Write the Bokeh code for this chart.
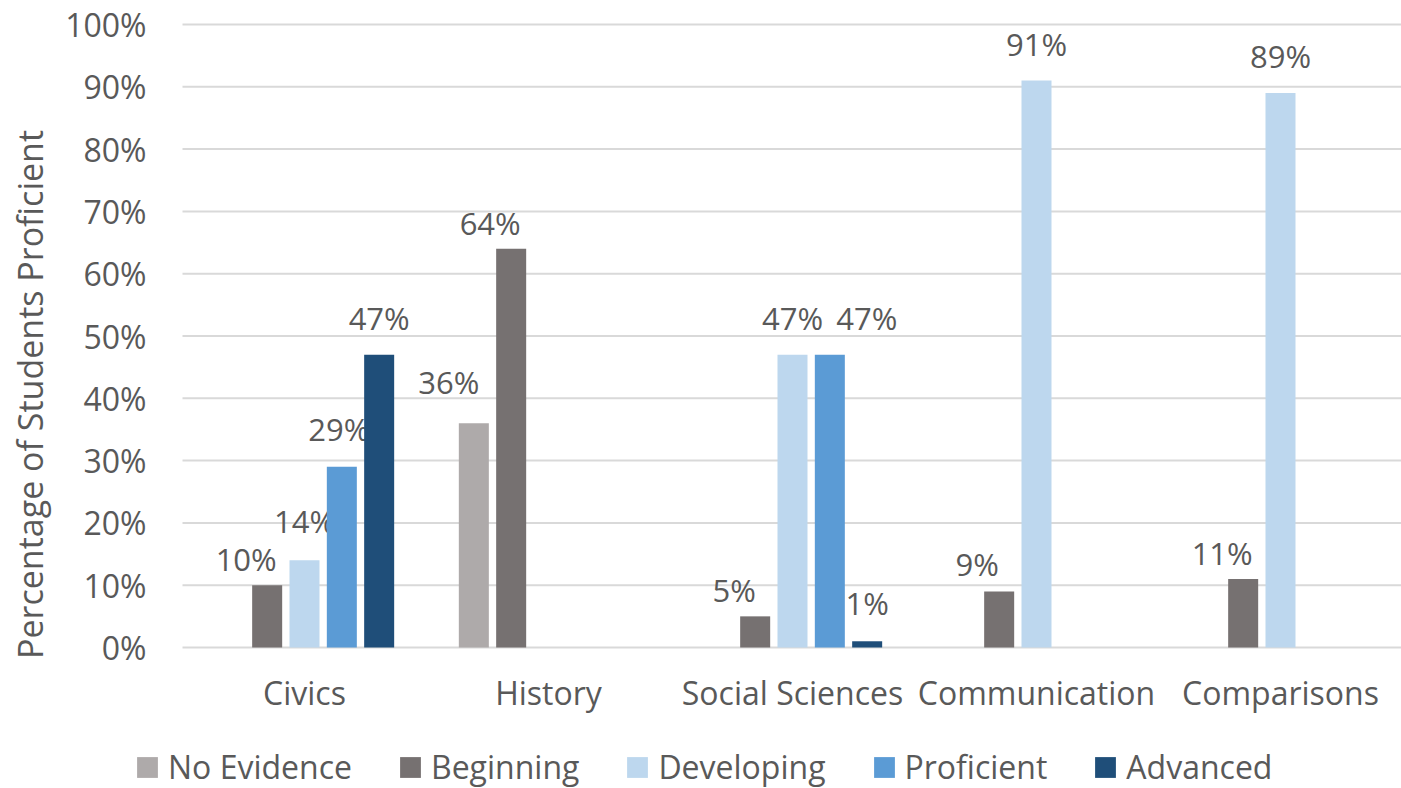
from bokeh.plotting import figure
from bokeh.models import (ColumnDataSource, Range1d, FixedTicker,
                          PrintfTickFormatter, Legend, LegendItem)
from bokeh.transform import dodge
from bokeh.core.properties import value
from bokeh.embed import file_html
from bokeh.resources import INLINE

# ---- data -------------------------------------------------------------
categories = ["Civics", "History", "Social Sciences", "Communication", "Comparisons"]
levels = ["No Evidence", "Beginning", "Developing", "Proficient", "Advanced"]

no_evidence = [0, 36, 0, 0, 0]
beginning = [10, 64, 5, 9, 11]
developing = [14, 0, 47, 91, 89]
proficient = [29, 0, 47, 0, 0]
advanced = [47, 0, 1, 0, 0]

y_ticks = [0, 10, 20, 30, 40, 50, 60, 70, 80, 90, 100]

# ---- style ------------------------------------------------------------
FONT = "Open Sans"
TEXT_COLOR = "#595959"
GRID_COLOR = "#D9D9D9"
colors = ["#AEAAAA", "#767171", "#BDD7EE", "#5B9BD5", "#1F4E79"]
bar_step = 0.153
bar_width = 0.123

W, H = 1401, 788
plot_left, plot_top, plot_bottom = 182, 24, 647   # pixel edges of the value area
px_per_cat = 244.0
px_per_pct = (plot_bottom - plot_top) / 100.0

# pixel nudges (dx, dy) for data labels that sit beside their bar
default_nudge = (0, -37)
label_nudges = {
    ("Civics", "Beginning"): (-21, -26),
    ("Civics", "Developing"): (0, -39),
    ("Civics", "Proficient"): (-3, -38),
    ("History", "No Evidence"): (-25, -41),
    ("History", "Beginning"): (-21, -26),
    ("Social Sciences", "Beginning"): (-21, -26),
    ("Social Sciences", "Proficient"): (37, -37),
    ("Social Sciences", "Advanced"): (0, -38),
    ("Communication", "Beginning"): (-22, -27),
    ("Comparisons", "Beginning"): (-21, -26),
}

series = [no_evidence, beginning, developing, proficient, advanced]
cat_pos = [i + 0.5 for i in range(len(categories))]

# the frame fills the canvas; axes are pinned at x=0 / y=0 inside it
p = figure(
    x_range=Range1d(-plot_left / px_per_cat, (W - plot_left) / px_per_cat),
    y_range=Range1d(-(H - plot_bottom) / px_per_pct, 100 + plot_top / px_per_pct),
    width=W, height=H, min_border=0,
    output_backend="svg", toolbar_location=None,
    background_fill_color="white", border_fill_color="white",
)
p.outline_line_color = None
p.xgrid.visible = False
p.ygrid.visible = False

# horizontal gridlines across the category span
p.segment(x0=[0] * len(y_ticks), x1=[len(categories)] * len(y_ticks),
          y0=y_ticks, y1=y_ticks, line_color=GRID_COLOR, line_width=2)

legend_items = []
for i, (name, vals, color) in enumerate(zip(levels, series, colors)):
    offset = (i - 2) * bar_step
    src = ColumnDataSource(dict(pos=cat_pos, level=vals))
    r = p.vbar(x=dodge("pos", offset), top="level",
               width=bar_width, source=src, fill_color=color, line_color=None)
    legend_items.append(LegendItem(label=name, renderers=[r]))

    xs, ys, texts, dxs, dys = [], [], [], [], []
    for c, pos, v in zip(categories, cat_pos, vals):
        if v == 0:
            continue
        dx, dy = label_nudges.get((c, name), default_nudge)
        xs.append(pos)
        ys.append(v)
        texts.append(f"{v}%")
        dxs.append(dx)
        dys.append(dy)
    lsrc = ColumnDataSource(dict(pos=xs, level=ys, text=texts, dx=dxs, dy=dys))
    p.text(x=dodge("pos", offset), y="level", text="text",
           x_offset="dx", y_offset="dy", source=lsrc,
           text_align="center", text_baseline="middle",
           text_font=value(FONT), text_font_size="31px", text_color=TEXT_COLOR)

# ---- axes ---------------------------------------------------------------
p.yaxis.fixed_location = 0
p.yaxis.ticker = FixedTicker(ticks=y_ticks)
p.yaxis.formatter = PrintfTickFormatter(format="%d%%")
p.yaxis.axis_line_color = None
p.yaxis.major_tick_line_color = None
p.yaxis.minor_tick_line_color = None
p.yaxis.major_label_standoff = 30
p.yaxis.major_label_text_font = FONT
p.yaxis.major_label_text_font_size = "32px"
p.yaxis.major_label_text_color = TEXT_COLOR
p.yaxis.axis_label = "Percentage of Students Proficient"
p.yaxis.axis_label_text_font = FONT
p.yaxis.axis_label_text_font_size = "34px"
p.yaxis.axis_label_text_font_style = "normal"
p.yaxis.axis_label_text_color = TEXT_COLOR
p.yaxis.axis_label_standoff = 9

p.xaxis.fixed_location = 0
p.xaxis.ticker = FixedTicker(ticks=cat_pos)
p.xaxis.major_label_overrides = {pos: c for pos, c in zip(cat_pos, categories)}
p.xaxis.axis_line_color = None
p.xaxis.major_tick_line_color = None
p.xaxis.minor_tick_line_color = None
p.xaxis.major_label_standoff = 17
p.xaxis.major_label_text_font = FONT
p.xaxis.major_label_text_font_size = "32px"
p.xaxis.major_label_text_color = TEXT_COLOR

legend = Legend(items=legend_items, orientation="horizontal",
                location=(134, 0),
                label_text_font=FONT, label_text_font_size="32px",
                label_text_color=TEXT_COLOR, glyph_width=26, glyph_height=26,
                label_standoff=8, spacing=45, padding=0, margin=0,
                border_line_color=None, background_fill_alpha=0)
p.add_layout(legend, "center")

open("out.html", "w").write(file_html(p, INLINE))
